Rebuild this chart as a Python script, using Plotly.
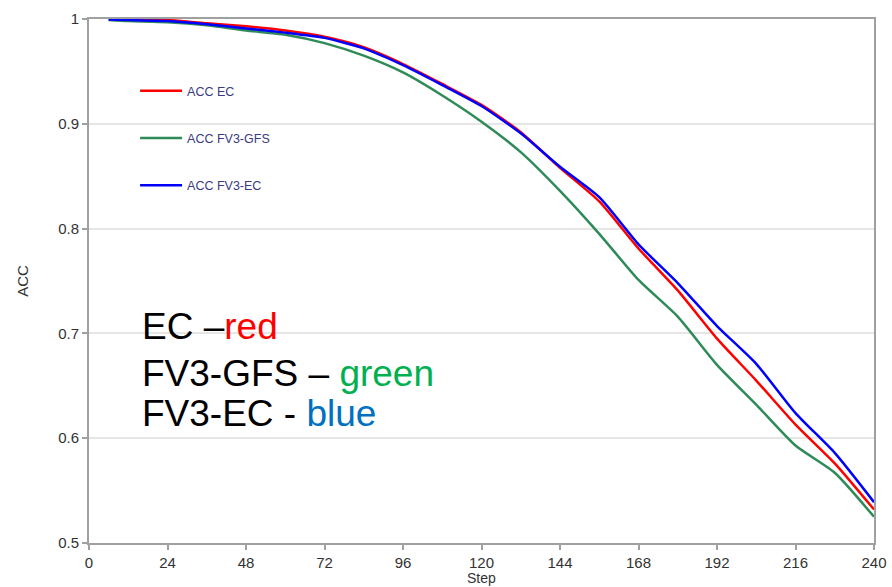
import plotly.graph_objects as go

steps = [6, 12, 24, 36, 48, 60, 72, 84, 96, 108, 120, 132, 144, 156, 168, 180, 192, 204, 216, 228, 240]
acc_ec = [1.0, 0.9995, 0.999, 0.996, 0.993, 0.989, 0.983, 0.973, 0.957, 0.938, 0.918, 0.892, 0.858, 0.826, 0.781, 0.741, 0.695, 0.655, 0.613, 0.576, 0.532]
acc_fv3_gfs = [0.999, 0.998, 0.997, 0.994, 0.989, 0.985, 0.977, 0.965, 0.949, 0.927, 0.902, 0.873, 0.836, 0.795, 0.751, 0.716, 0.670, 0.632, 0.593, 0.567, 0.525]
acc_fv3_ec = [0.9995, 0.999, 0.998, 0.995, 0.991, 0.987, 0.982, 0.972, 0.956, 0.937, 0.917, 0.891, 0.859, 0.830, 0.785, 0.748, 0.707, 0.671, 0.624, 0.586, 0.539]

x_ticks = [0, 24, 48, 72, 96, 120, 144, 168, 192, 216, 240]
y_ticks = [0.5, 0.6, 0.7, 0.8, 0.9, 1.0]
y_tick_labels = ["0.5", "0.6", "0.7", "0.8", "0.9", "1"]

series = [
    ("ACC EC", acc_ec, "#ff0000"),
    ("ACC FV3-GFS", acc_fv3_gfs, "#2e8b57"),
    ("ACC FV3-EC", acc_fv3_ec, "#0000ff"),
]

tick_font = dict(family="Liberation Sans Narrow, Liberation Sans, Arial", size=15, color="#333333")

fig = go.Figure()
for i, (name, vals, col) in enumerate(series):
    fig.add_trace(go.Scatter(
        x=steps, y=vals, mode="lines", name=name, legendgroup=f"g{i}",
        line=dict(color=col, width=2.5, shape="spline", smoothing=0.6),
    ))

fig.update_layout(
    width=892, height=587,
    margin=dict(l=89, r=18, t=19, b=44),
    plot_bgcolor="white", paper_bgcolor="white",
    showlegend=True,
    legend=dict(
        x=0.0587, y=0.891, xanchor="left", yanchor="top",
        bgcolor="rgba(0,0,0,0)", tracegroupgap=28, itemwidth=42,
        font=dict(family="Liberation Sans Narrow, Liberation Sans, Arial", size=12.5, color="#3a3a80"),
    ),
    xaxis=dict(
        range=[0, 240], tickmode="array", tickvals=x_ticks,
        showgrid=False, zeroline=False, automargin=False,
        showline=True, linecolor="#a0a0a0", linewidth=2, mirror=True,
        ticks="outside", ticklen=5, tickcolor="#a0a0a0", tickwidth=1.5,
        tickfont=tick_font,
    ),
    yaxis=dict(
        range=[0.5, 1.0], tickmode="array", tickvals=y_ticks, ticktext=y_tick_labels,
        showgrid=True, gridcolor="#e6e6e6", gridwidth=1.5, zeroline=False, automargin=False,
        showline=True, linecolor="#a0a0a0", linewidth=2, mirror=True,
        ticks="outside", ticklen=5, tickcolor="#a0a0a0", tickwidth=1.5,
        tickfont=tick_font,
        title=dict(text="ACC", font=tick_font, standoff=26),
    ),
)

# x-axis title placed just below the tick labels
fig.add_annotation(
    x=0.5, y=-0.0668, xref="paper", yref="paper", xanchor="center", yanchor="middle",
    showarrow=False, text="Step",
    font=dict(family="Liberation Sans Narrow, Liberation Sans, Arial", size=14, color="#333333"),
)

big_font = "Liberation Sans, Arial"
lines = [
    ("EC –", "red", "#ff0000", 0.413),
    ("FV3-GFS – ", "green", "#00b050", 0.324),
    ("FV3-EC - ", "blue", "#0070c0", 0.248),
]
for black, colored, col, yp in lines:
    fig.add_annotation(
        x=(140 - 89) / 784, y=yp, xref="paper", yref="paper",
        xanchor="left", yanchor="middle", showarrow=False,
        text=f"<span style='color:#000000'>{black}</span><span style='color:{col}'>{colored}</span>",
        font=dict(family=big_font, size=37, color="#000000"),
    )

fig.write_html("out.html")
